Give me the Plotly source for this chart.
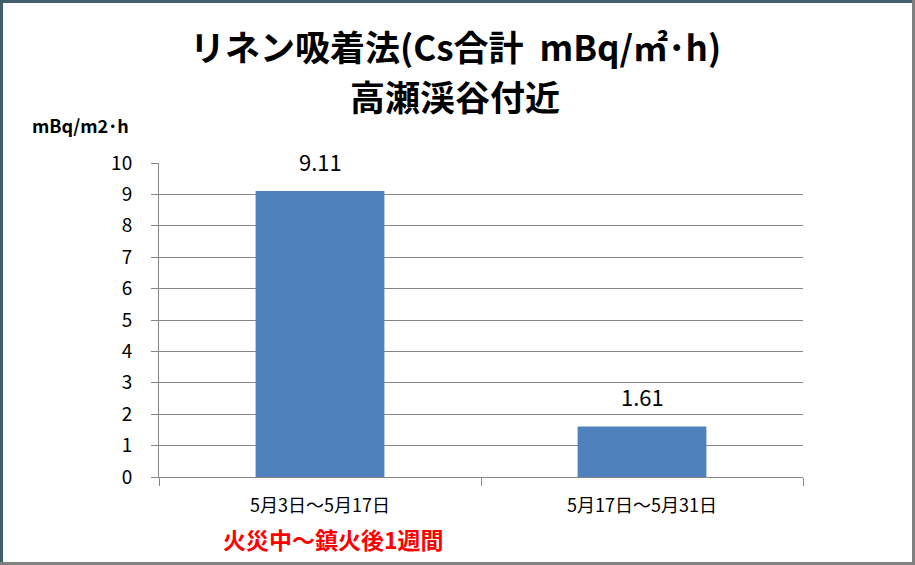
import plotly.graph_objects as go

categories = ["5月3日～5月17日", "5月17日～5月31日"]
values = [9.11, 1.61]
value_labels = ["9.11", "1.61"]
y_ticks = list(range(0, 11))
title_lines = ["リネン吸着法(Cs合計  mBq/㎡･h)", "高瀬渓谷付近"]

W, H = 915, 565
L, R, T, B = 159, 112, 163, 88
pw, ph = W - L - R, H - T - B

def px(x):
    return (x - L) / pw

def py(y):
    return (H - B - y) / ph

fig = go.Figure()
fig.add_trace(go.Bar(
    x=categories, y=values,
    marker=dict(color="#4F81BD", line=dict(width=0)),
    width=0.4, hoverinfo="skip",
))

for c, v, t in zip(categories, values, value_labels):
    fig.add_annotation(
        x=c, y=v, text=t, showarrow=False, xanchor="center", yanchor="bottom",
        yshift=12,
        font=dict(family="Noto Sans CJK JP, Open Sans", size=22, color="#000000"),
    )

fig.update_layout(
    width=W, height=H,
    margin=dict(l=L, r=R, t=T, b=B),
    paper_bgcolor="white", plot_bgcolor="white",
    showlegend=False,
    xaxis=dict(
        type="category", showgrid=False, showline=True, linecolor="#868686", linewidth=1,
        ticks="outside", tickson="boundaries", ticklen=8, tickcolor="#868686",
        tickfont=dict(family="Noto Sans CJK JP", size=18, color="#000000"),
        range=[-0.5, 1.5], ticklabelstandoff=12,
    ),
    yaxis=dict(
        range=[0, 10], tickvals=y_ticks, showgrid=True, gridcolor="#868686", gridwidth=1,
        showline=True, linecolor="#868686", linewidth=1,
        ticks="outside", ticklen=7, tickcolor="#868686",
        tickfont=dict(family="Noto Sans CJK JP, Open Sans", size=19, color="#000000"),
        zeroline=False, ticklabelstandoff=15,
    ),
    bargap=0.6,
)

for line, yc in zip(title_lines, [45, 95]):
    fig.add_annotation(
        text=line, xref="paper", yref="paper", x=px(455), y=py(yc),
        xanchor="center", yanchor="middle", showarrow=False,
        font=dict(family="Noto Sans CJK JP", size=35, color="#000000", weight="bold"),
    )

fig.add_annotation(
    text="mBq/m2･h", xref="paper", yref="paper", x=px(30), y=py(125),
    xanchor="left", yanchor="middle", showarrow=False,
    font=dict(family="Noto Sans CJK JP", size=18, color="#000000", weight="bold"),
)
fig.add_annotation(
    text="火災中～鎮火後1週間", xref="paper", yref="paper", x=px(333), y=py(539),
    xanchor="center", yanchor="middle", showarrow=False,
    font=dict(family="Noto Sans CJK JP", size=23, color="#FF0000", weight="bold"),
)

# outer chart border
border = [
    (1.5, 0, 1.5, H, "#3F5F69", 3),
    (0, 1.5, W, 1.5, "#3F5F69", 3),
    (913.5, 0, 913.5, H, "#808080", 3),
    (0, 563.5, W, 563.5, "#808080", 3),
]
for x0, y0, x1, y1, c, w in border:
    fig.add_shape(type="line", xref="paper", yref="paper",
                  x0=px(x0), y0=py(y0), x1=px(x1), y1=py(y1),
                  line=dict(color=c, width=w))

fig.write_html("out.html", config={"displayModeBar": False},
               post_script="document.body.style.margin='0';")
